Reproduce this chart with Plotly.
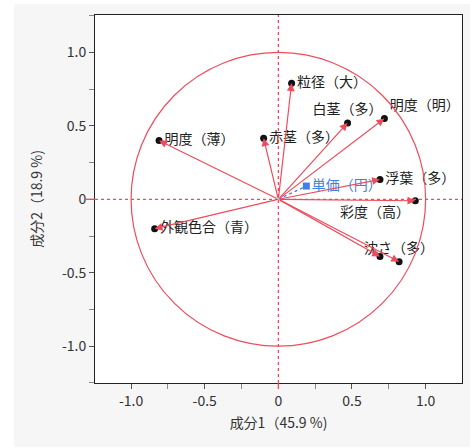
import plotly.graph_objects as go

# Loadings of the active variables on the first two principal components
var_labels = ["粒径（大）", "白茎（多）", "明度（明）", "浮葉（多）", "彩度（高）",
              "", "沈さ（多）", "明度（薄）", "赤茎（多）", "外観色合（青）"]
pc1 = [0.09, 0.47, 0.72, 0.69, 0.93, 0.69, 0.82, -0.81, -0.10, -0.84]
pc2 = [0.79, 0.52, 0.55, 0.135, -0.01, -0.39, -0.425, 0.40, 0.415, -0.20]
label_pos = ["middle right", "top center", "top right", "middle right", "bottom left",
             "middle right", "top center", "middle right", "middle right", "middle right"]

# Supplementary variable
supp_label = ["単価（円）"]
supp_pc1 = [0.19]
supp_pc2 = [0.09]

x_title = "成分1（45.9 %)"
y_title = "成分2（18.9 %)"
tick_vals = [-1.0, -0.5, 0, 0.5, 1.0]
tick_text = ["-1.0", "-0.5", "0", "0.5", "1.0"]

RED = "#ef4b5a"
BLUE = "#3f7fe6"
FONT = "Noto Sans CJK JP"

fig = go.Figure()

# supplementary direction (dotted)
fig.add_trace(go.Scatter(
    x=[0, supp_pc1[0]], y=[0, supp_pc2[0]], mode="lines",
    line=dict(color=BLUE, width=1.3, dash="dot"), hoverinfo="skip", showlegend=False))
fig.add_trace(go.Scatter(
    x=supp_pc1, y=supp_pc2, mode="markers+text", text=supp_label,
    textposition="middle right", textfont=dict(color=BLUE, size=14, family=FONT),
    marker=dict(symbol="square", size=7, color=BLUE), showlegend=False))

# loading end points
fig.add_trace(go.Scatter(
    x=pc1, y=pc2, mode="markers+text", text=var_labels, textposition=label_pos,
    textfont=dict(color="#222222", size=14, family=FONT),
    marker=dict(size=7, color="#111111"), showlegend=False))

# arrows from the origin to each loading
annotations = []
for xv, yv in zip(pc1, pc2):
    annotations.append(dict(
        x=xv, y=yv, ax=0, ay=0, xref="x", yref="y", axref="x", ayref="y",
        text="", showarrow=True, arrowhead=2, arrowsize=1.3, arrowwidth=1.2,
        arrowcolor=RED, standoff=0))

shapes = [
    # panel background
    dict(type="rect", xref="paper", yref="paper", x0=-0.2207, x1=1.03, y0=-0.174, y1=1.03,
         fillcolor="#f6f6f6", line=dict(width=0), layer="below"),
    dict(type="rect", xref="paper", yref="paper", x0=0, x1=1, y0=0, y1=1,
         fillcolor="white", line=dict(width=0), layer="below"),
    # correlation circle
    dict(type="circle", xref="x", yref="y", x0=-1, x1=1, y0=-1, y1=1,
         line=dict(color=RED, width=1.2)),
    # zero reference lines
    dict(type="line", xref="x", yref="paper", x0=0, x1=0, y0=0, y1=1,
         line=dict(color=RED, width=1.3, dash="dot")),
    dict(type="line", xref="paper", yref="y", x0=0, x1=1, y0=0, y1=0,
         line=dict(color=RED, width=1.3, dash="dot")),
    # red ticks at zero
    dict(type="line", xref="x", yref="paper", x0=0, x1=0, y0=-0.016, y1=0,
         line=dict(color=RED, width=1.3)),
    dict(type="line", xref="paper", yref="y", x0=-0.027, x1=0, y0=0, y1=0,
         line=dict(color=RED, width=1.3)),
]

axis_common = dict(
    showgrid=False, zeroline=False, showline=True, linecolor="#222222", linewidth=1,
    mirror=True, ticks="outside", ticklen=5, tickcolor="#555555",
    tickvals=tick_vals, ticktext=tick_text,
    tickfont=dict(size=14, color="#333333", family=FONT),
    minor=dict(dtick=0.25, ticks="outside", ticklen=5, tickcolor="#888888"),
    title_font=dict(size=14, color="#333333", family=FONT),
)

fig.update_layout(
    width=470, height=448,
    margin=dict(l=95, r=8, t=15, b=65),
    paper_bgcolor="white", plot_bgcolor="white",
    font=dict(family=FONT, color="#333333"),
    xaxis=dict(range=[-1.245, 1.247], title=dict(text=x_title, standoff=9), **axis_common),
    yaxis=dict(range=[-1.251, 1.255], title=dict(text=y_title, standoff=16), **axis_common),
    shapes=shapes, annotations=annotations, showlegend=False,
)

fig.write_html("out.html")
